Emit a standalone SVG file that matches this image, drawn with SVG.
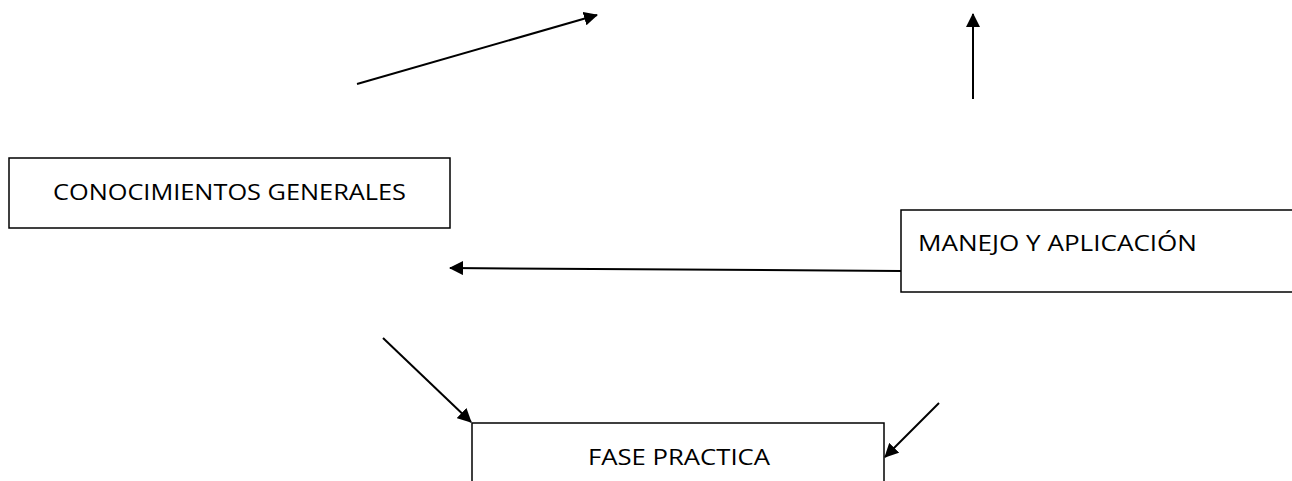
<svg xmlns="http://www.w3.org/2000/svg" width="1292" height="481" viewBox="0 0 1292 481">
<style>
.box{fill:#fff;stroke:#000;stroke-width:1.5}
.lbl{font-family:"Open Sans","Noto Sans","Liberation Sans",sans-serif;font-size:21px;fill:#000}
</style>
<defs>
<marker id="ahb" markerWidth="14" markerHeight="14" refX="13" refY="7" orient="auto" markerUnits="userSpaceOnUse" viewBox="0 0 14 14">
<path d="M0,0 L14,7 L0,14 Z" fill="#000"/>
</marker>
</defs>
<rect width="1292" height="481" fill="#fff"/>
<g id="connectors">
<line x1="357" y1="84" x2="597" y2="15" stroke="#000" stroke-width="2" marker-end="url(#ahb)"/>
<line x1="973" y1="99" x2="973" y2="14" stroke="#000" stroke-width="2" marker-end="url(#ahb)"/>
<line x1="901" y1="271" x2="450" y2="268" stroke="#000" stroke-width="2" marker-end="url(#ahb)"/>
<line x1="383" y1="338" x2="471" y2="422" stroke="#000" stroke-width="2" marker-end="url(#ahb)"/>
<line x1="939" y1="403" x2="885" y2="457" stroke="#000" stroke-width="2" marker-end="url(#ahb)"/>
</g>
<g id="node-conocimientos">
<rect class="box" x="9" y="158" width="441" height="70"/>
<text class="lbl" x="53" y="200" textLength="353" lengthAdjust="spacingAndGlyphs">CONOCIMIENTOS GENERALES</text>
</g>
<g id="node-manejo">
<rect class="box" x="901" y="210" width="400" height="82"/>
<text class="lbl" x="918" y="251" textLength="279" lengthAdjust="spacingAndGlyphs">MANEJO Y APLICACIÓN</text>
</g>
<g id="node-fase">
<rect class="box" x="472" y="423" width="412" height="70"/>
<text class="lbl" x="588" y="465" textLength="182" lengthAdjust="spacingAndGlyphs">FASE PRACTICA</text>
</g>
</svg>
